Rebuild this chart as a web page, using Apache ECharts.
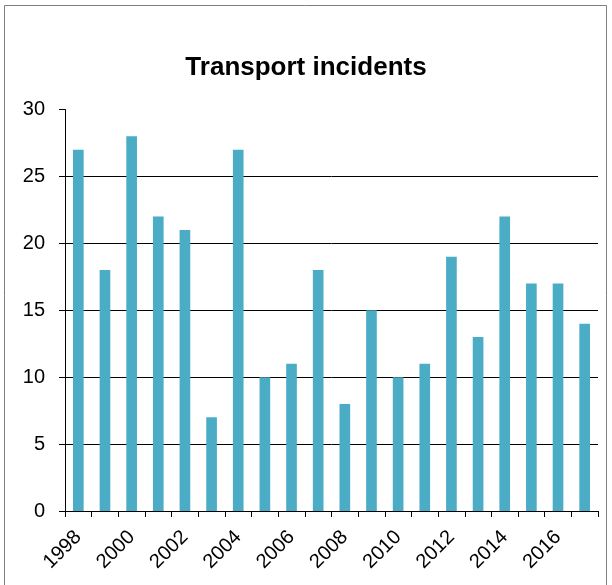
<!DOCTYPE html>
<html><head><meta charset="utf-8">
<script src="https://cdn.jsdelivr.net/npm/echarts@6/dist/echarts.min.js"></script>
<style>html,body{margin:0;padding:0;background:#fff}#c{width:612px;height:585px}</style>
</head><body><div id="c"></div>
<script>
const years = ['1998','1999','2000','2001','2002','2003','2004','2005','2006','2007','2008','2009','2010','2011','2012','2013','2014','2015','2016','2017'];
const incidents = [27,18,28,22,21,7,27,10,11,18,8,15,10,11,19,13,22,17,17,14];
const yTicks = {min:0, max:30, interval:5};

const chart = echarts.init(document.getElementById('c'), null, {renderer:'canvas'});
chart.setOption({
  animation:false,
  backgroundColor:'#fff',
  graphic:[{type:'rect', shape:{x:4.5,y:5.5,width:602,height:620}, style:{fill:'none', stroke:'#7f7f7f', lineWidth:1}, silent:true}],
  title:{text:'Transport incidents', left:'center', top:50, textStyle:{fontFamily:'Liberation Sans, Arial', fontSize:26, fontWeight:'bold', color:'#000'}},
  grid:{left:65, right:14, top:109.5, bottom:74, containLabel:false},
  xAxis:{type:'category', data:years, boundaryGap:true,
    axisLine:{lineStyle:{color:'#000', width:1}},
    axisTick:{show:true, interval:0, length:6, lineStyle:{color:'#000'}},
    axisLabel:{interval:1, rotate:45, fontFamily:'Liberation Sans, Arial', fontSize:20, color:'#000', margin:23}
  },
  yAxis:{type:'value', min:yTicks.min, max:yTicks.max, interval:yTicks.interval,
    axisLine:{show:true, lineStyle:{color:'#000', width:1}},
    axisTick:{show:true, length:6, lineStyle:{color:'#000'}},
    axisLabel:{fontFamily:'Liberation Sans, Arial', fontSize:20, color:'#000', margin:20},
    splitLine:{show:true, showMaxLine:false, lineStyle:{color:'#000', width:1}}
  },
  series:[{type:'bar', data:incidents, barWidth:'40%', itemStyle:{color:'#4BACC6'}}]
});
</script></body></html>
